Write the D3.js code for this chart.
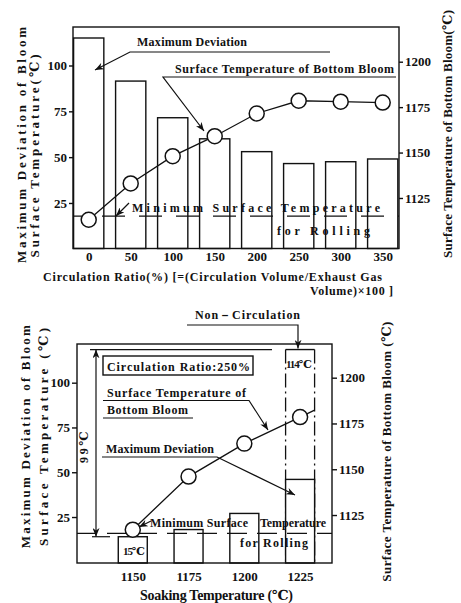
<!DOCTYPE html>
<html><head><meta charset="utf-8">
<script src="https://cdn.jsdelivr.net/npm/d3@7"></script>
<style>
body{margin:0;background:#fff}
text{font-family:"Liberation Serif","DejaVu Serif",serif;font-weight:bold;fill:#111}
</style>
</head><body><svg id="c" width="461" height="603"></svg>
<script>
// ---------- Top chart data ----------
const ratios = [0, 50, 100, 150, 200, 250, 300, 350];
const ratioTicks = [0, 50, 100, 150, 200, 250, 300, 350];
const devTop = [115, 91.5, 71.5, 60, 53, 46.5, 47.5, 49];
const tempTop = [1113, 1133, 1148, 1159, 1171.5, 1178.5, 1178, 1177.5];
const devTicks = [25, 50, 75, 100];
const tempTicks = [1125, 1150, 1175, 1200];
const minRollTemp = 1115;
// ---------- Bottom chart data ----------
const soakTemps = [1150, 1175, 1200, 1225];
const soakTicks = [1150, 1175, 1200, 1225];
const devBottom = [14, 18, 27, 46];
const tempBottom = [1117, 1146, 1164, 1178.5];
const nonCircSoak = 1225;
const nonCircDev = 118.5;
const nonCircLabel = "114℃";
const circLowLabel = "15℃";
const diffLabel = "99℃";

const svg = d3.select("#c");
const sw = 1.4;
const fmt = d3.format("d");
const defs = svg.append("defs");
defs.append("marker").attr("id","ah").attr("viewBox","0 0 10 8")
  .attr("refX",10).attr("refY",4).attr("markerWidth",9).attr("markerHeight",7)
  .attr("markerUnits","userSpaceOnUse").attr("orient","auto-start-reverse")
  .append("path").attr("d","M0,0 L10,4 L0,8 L3,4 z").attr("fill","#111");

function txt(g, s, x, y, len, size) {
  const t = g.append("text").attr("x",x).attr("y",y).text(s)
    .attr("font-size",size||13);
  if (len) t.attr("textLength",len).attr("lengthAdjust","spacing");
  return t;
}
function vtxt(g, s, cx, cy, len, size) {
  return g.append("text").attr("transform",`translate(${cx},${cy}) rotate(-90)`)
    .attr("text-anchor","middle").attr("dominant-baseline","central")
    .attr("font-size",size||14).attr("textLength",len).attr("lengthAdjust","spacing")
    .text(s);
}
function pline(g, pts, arrow) {
  const p = g.append("path").attr("d", d3.line()(pts)).attr("fill","none")
    .attr("stroke","#111").attr("stroke-width",1.2);
  if (arrow === "end" || arrow === "both") p.attr("marker-end","url(#ah)");
  if (arrow === "both") p.attr("marker-start","url(#ah)");
  return p;
}
function styleAxis(g, size) {
  g.select(".domain").remove();
  g.selectAll(".tick line").attr("stroke","#111").attr("stroke-width",sw);
  g.selectAll(".tick text").attr("font-size",size).attr("fill","#111")
    .attr("font-family","Liberation Serif, serif").attr("font-weight","bold");
}

// ================= TOP CHART =================
(function(){
  const L = 73, R = 399, T = 27, B = 248.5;
  const x = d3.scaleLinear([-18.7, 369.4], [L, R]);
  const yL = d3.scaleLinear([0, 121], [248.8, T]);
  const yR = d3.scaleLinear([1097.2, 1219.1], [B, T]);
  const g = svg.append("g");
  const barW = 36;

  g.selectAll("rect.bar").data(ratios).join("rect")
    .attr("x", (d) => Math.max(L, x(d - barW/2)))
    .attr("width", (d) => x(d + barW/2) - Math.max(L, x(d - barW/2)))
    .attr("y", (d,i) => yL(devTop[i]))
    .attr("height", (d,i) => B - yL(devTop[i]))
    .attr("fill","none").attr("stroke","#111").attr("stroke-width",sw);

  g.append("line").attr("x1",L).attr("x2",R).attr("y1",yR(minRollTemp)).attr("y2",yR(minRollTemp))
    .attr("stroke","#111").attr("stroke-width",1.3).attr("stroke-dasharray","23,14").attr("stroke-dashoffset",8);

  g.append("rect").attr("x",L).attr("y",T).attr("width",R-L).attr("height",B-T)
    .attr("fill","none").attr("stroke","#111").attr("stroke-width",sw);

  const pts = ratios.map((r,i)=>[x(r), yR(tempTop[i])]);
  g.append("path").attr("d", d3.line()(pts)).attr("fill","none").attr("stroke","#111").attr("stroke-width",1.3);
  g.selectAll("circle").data(pts).join("circle").attr("cx",d=>d[0]).attr("cy",d=>d[1]).attr("r",7.5)
    .attr("fill","#fff").attr("stroke","#111").attr("stroke-width",1.5);

  const ax1 = g.append("g").attr("transform",`translate(${L},0)`)
    .call(d3.axisLeft(yL).tickValues(devTicks).tickFormat(fmt).tickSize(4).tickPadding(2));
  styleAxis(ax1, 13);
  const ax2 = g.append("g").attr("transform",`translate(${R},0)`)
    .call(d3.axisRight(yR).tickValues(tempTicks).tickFormat(fmt).tickSize(4).tickPadding(2));
  styleAxis(ax2, 13);
  const ax3 = g.append("g").attr("transform",`translate(0,${B})`)
    .call(d3.axisBottom(x).tickValues(ratioTicks).tickFormat(fmt).tickSize(0).tickPadding(3));
  styleAxis(ax3, 13);

  txt(g, "Maximum Deviation", 137, 46, 110, 12);
  pline(g, [[330,52],[130,52],[95,70]], "end");
  txt(g, "Surface Temperature of Bottom Bloom", 175, 73, 219, 12);
  pline(g, [[396,77],[163,77],[204,131]], "end");
  txt(g, "Minimum Surface Temperature", 132, 212, 248, 12);
  txt(g, "for Rolling", 277, 235, 93, 12);
  pline(g, [[129,203],[116,216]], "end");

  vtxt(g, "Maximum Deviation of Bloom", 21.7, 145, 236, 13);
  vtxt(g, "Surface Temperature(℃)", 34.3, 156, 203, 13);
  vtxt(g, "Surface Temperature of Bottom Bloom(℃)", 447, 134, 248, 13);
  txt(g, "Circulation Ratio(%) [=(Circulation Volume/Exhaust Gas", 43, 281, 339, 12);
  txt(g, "Volume)×100 ]", 310, 295, 83, 12);
})();

// ================= BOTTOM CHART =================
(function(){
  const L = 77, R = 332, T = 344, B = 563;
  const x = d3.scaleLinear([1125, 1239.3], [L, R]);
  const yL = d3.scaleLinear([0, 121.6], [561.8, T]);
  const yR = d3.scaleLinear([1098.8, 1218.4], [B, T]);
  const g = svg.append("g");
  const barW = 13;

  const nx0 = x(nonCircSoak - barW/2), nx1 = x(nonCircSoak + barW/2), ny = yL(nonCircDev);
  g.append("line").attr("x1",nx0).attr("x2",nx1).attr("y1",ny).attr("y2",ny)
    .attr("stroke","#111").attr("stroke-width",sw);
  [nx0, nx1].forEach(xx => g.append("line").attr("x1",xx).attr("x2",xx).attr("y1",ny).attr("y2",B)
    .attr("stroke","#111").attr("stroke-width",1.3).attr("stroke-dasharray","14,4,2,4"));

  g.selectAll("rect.bar").data(soakTemps).join("rect")
    .attr("x", d => x(d - barW/2)).attr("width", d => x(d + barW/2) - x(d - barW/2))
    .attr("y", (d,i) => yL(devBottom[i])).attr("height", (d,i) => B - yL(devBottom[i]))
    .attr("fill","#fff").attr("stroke","#111").attr("stroke-width",sw);

  g.append("line").attr("x1",L).attr("x2",R).attr("y1",yR(minRollTemp)).attr("y2",yR(minRollTemp))
    .attr("stroke","#111").attr("stroke-width",1.3).attr("stroke-dasharray","20,10");

  g.append("rect").attr("x",L).attr("y",T).attr("width",R-L).attr("height",B-T)
    .attr("fill","none").attr("stroke","#111").attr("stroke-width",sw);

  const pts = soakTemps.map((s,i)=>[x(s), yR(tempBottom[i])]);
  const n = pts.length;
  const slope = (pts[n-1][1]-pts[n-2][1])/(pts[n-1][0]-pts[n-2][0]);
  const ext = [nx1, pts[n-1][1] + slope*(nx1 - pts[n-1][0])];
  g.append("path").attr("d", d3.line()(pts.concat([ext]))).attr("fill","none").attr("stroke","#111").attr("stroke-width",1.3);
  g.selectAll("circle").data(pts).join("circle").attr("cx",d=>d[0]).attr("cy",d=>d[1]).attr("r",7.5)
    .attr("fill","#fff").attr("stroke","#111").attr("stroke-width",1.5);

  const ax1 = g.append("g").attr("transform",`translate(${L},0)`)
    .call(d3.axisLeft(yL).tickValues(devTicks).tickFormat(fmt).tickSize(5).tickPadding(2));
  styleAxis(ax1, 13);
  const ax2 = g.append("g").attr("transform",`translate(${R},0)`)
    .call(d3.axisRight(yR).tickValues(tempTicks).tickFormat(fmt).tickSize(5).tickPadding(2));
  styleAxis(ax2, 13);
  const ax3 = g.append("g").attr("transform",`translate(0,${B})`)
    .call(d3.axisBottom(x).tickValues(soakTicks).tickFormat(fmt).tickSize(0).tickPadding(9));
  styleAxis(ax3, 13);

  const yTop = yL(nonCircDev), yBot = yL(devBottom[0]);
  pline(g, [[90,yTop],[272,yTop]]);
  pline(g, [[92,yBot],[110,yBot]]);
  pline(g, [[96,yTop],[96,yBot]], "both");
  vtxt(g, diffLabel, 84, 447, 32, 12);

  txt(g, "Non－Circulation", 195, 319, 105, 12);
  pline(g, [[187,325],[298,325],[298,ny-1]], "end");
  g.append("rect").attr("x",103).attr("y",356).attr("width",150).attr("height",19)
    .attr("fill","none").attr("stroke","#111").attr("stroke-width",sw);
  txt(g, "Circulation Ratio:250%", 107, 371, 143, 12);
  txt(g, "Surface Temperature of", 107, 397, 139, 12);
  pline(g, [[103,400.5],[249,400.5],[268,430]], "end");
  txt(g, "Bottom Bloom", 107, 414, 81, 12);
  pline(g, [[103,418],[193,418]]);
  txt(g, "Maximum Deviation", 106, 453, 108, 12);
  pline(g, [[102,457],[217,457],[295,495]], "end");
  txt(g, "Minimum Surface", 150, 527, 98, 12);
  txt(g, "Temperature", 260, 527, 66, 12);
  txt(g, "for Rolling", 240, 547, 68, 12);
  pline(g, [[151,521],[139,527]], "end");
  txt(g, circLowLabel, 123, 555, 22, 11);
  txt(g, nonCircLabel, 286, 368, 26, 11);

  vtxt(g, "Maximum Deviation of Bloom", 25, 436.7, 223, 13);
  vtxt(g, "Surface Temperature (℃)", 43.3, 437, 218, 13);
  vtxt(g, "Surface Temperature of Bottom Bloom (℃)", 386.7, 451.7, 260, 13);
  txt(g, "Soaking Temperature (℃)", 140, 600, 153, 14);
})();
</script>
</body></html>
